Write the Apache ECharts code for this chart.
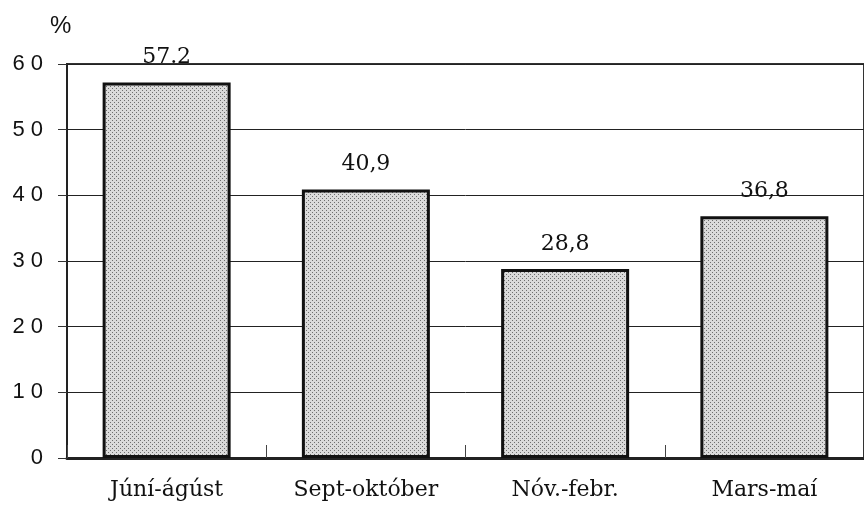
<!DOCTYPE html>
<html>
<head>
<meta charset="utf-8">
<script src="https://cdn.jsdelivr.net/npm/echarts@6/dist/echarts.min.js"></script>
<style>
  html, body { margin: 0; padding: 0; background: #fff; }
  #chart { width: 864px; height: 505px; }
</style>
</head>
<body>
<div id="chart"></div>
<script>
// periods and shares (%)
var categories = ['Júní-ágúst', 'Sept-október', 'Nóv.-febr.', 'Mars-maí'];
var values = [57.2, 40.9, 28.8, 36.8];
var valueLabels = ['57.2', '40,9', '28,8', '36,8'];
var yTicks = [0, 10, 20, 30, 40, 50, 60];

// stipple fill like the printed bars
function stipple() {
  var c = document.createElement('canvas');
  c.width = 4; c.height = 4;
  var ctx = c.getContext('2d');
  ctx.fillStyle = '#dadada';
  ctx.fillRect(0, 0, 4, 4);
  ctx.fillStyle = '#6e6e6e';
  ctx.fillRect(0, 0, 1, 1);
  ctx.fillRect(2, 2, 1, 1);
  return c;
}

var myChart = echarts.init(document.getElementById('chart'));
var pattern = { image: stipple(), repeat: 'repeat' };

myChart.setOption({
  animation: false,
  title: {
    text: '%', left: 45, top: 9,
    textStyle: { fontFamily: 'Liberation Sans', fontSize: 24, fontWeight: 'normal', color: '#111' }
  },
  grid: {
    left: 67, top: 64, width: 800, bottom: 47,
    show: true, borderColor: '#333', borderWidth: 2, backgroundColor: 'transparent'
  },
  xAxis: {
    type: 'category',
    data: categories,
    axisLine: { lineStyle: { color: '#222', width: 3 } },
    axisTick: { show: true, inside: true, length: 13, lineStyle: { color: '#444', width: 1 } },
    axisLabel: {
      margin: 21,
      fontFamily: 'DejaVu Serif', fontSize: 22, color: '#111'
    },
    splitLine: { show: false }
  },
  yAxis: {
    type: 'value',
    min: yTicks[0], max: yTicks[yTicks.length - 1], interval: 10,
    axisLine: { show: true, lineStyle: { color: '#222', width: 2 } },
    axisTick: { show: true, length: 9, lineStyle: { color: '#333' } },
    axisLabel: {
      margin: 24,
      fontFamily: 'Liberation Sans', fontSize: 22, color: '#111',
      formatter: function (v) { return String(v).split('').join(' '); }
    },
    splitLine: { lineStyle: { color: '#222', width: 1 } }
  },
  series: [{
    type: 'bar',
    data: values,
    barWidth: 128,
    itemStyle: { color: pattern, borderColor: '#111', borderWidth: 3 },
    label: {
      show: true, position: 'top', distance: 14,
      fontFamily: 'DejaVu Serif', fontSize: 22, color: '#111',
      formatter: function (p) { return valueLabels[p.dataIndex]; }
    }
  }]
});
</script>
</body>
</html>
